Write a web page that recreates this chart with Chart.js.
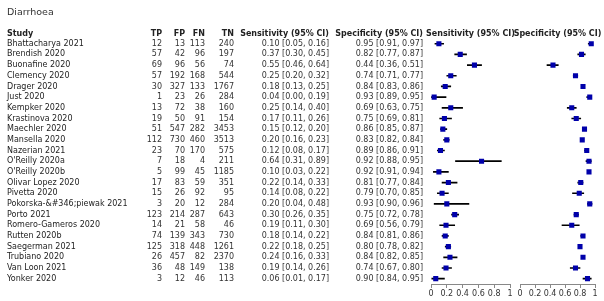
<!DOCTYPE html>
<html lang="en">
<head>
<meta charset="UTF-8">
<title>Diarrhoea</title>
<script src="https://cdn.jsdelivr.net/npm/chart.js"></script>
<style>
  body { margin: 0; background: #fff; }
  #wrap { position: relative; width: 604px; height: 301px; }
  canvas { position: absolute; top: 0; }
  #sensChart { left: 0; }
  #specChart { left: 500px; }
</style>
</head>
<body>
<div id="wrap">
  <canvas id="sensChart" width="515" height="301"></canvas>
  <canvas id="specChart" width="104" height="301"></canvas>
</div>
<script>
const title = 'Diarrhoea';
const studies = [
  'Bhattacharya 2021', 'Brendish 2020', 'Buonafine 2020', 'Clemency 2020', 'Drager 2020',
  'Just 2020', 'Kempker 2020', 'Krastinova 2020', 'Maechler 2020', 'Mansella 2020',
  'Nazerian 2021', "O'Reilly 2020a", "O'Reilly 2020b", 'Olivar Lopez 2020', 'Pivetta 2020',
  'Pokorska-&#346;piewak 2021', 'Porto 2021', 'Romero-Gameros 2020', 'Rutten 2020b',
  'Saegerman 2021', 'Trubiano 2020', 'Van Loon 2021', 'Yonker 2020'
];
const tp = [12, 57, 69, 57, 30, 1, 13, 19, 51, 112, 23, 7, 5, 17, 15, 3, 123, 14, 74, 125, 26, 36, 3];
const fp = [13, 42, 96, 192, 327, 23, 72, 50, 547, 730, 70, 18, 99, 83, 26, 20, 214, 21, 139, 318, 457, 48, 12];
const fn = [113, 96, 56, 168, 133, 26, 38, 91, 282, 460, 170, 4, 45, 59, 92, 12, 287, 58, 343, 448, 82, 149, 46];
const tn = [240, 197, 74, 544, 1767, 284, 160, 154, 3453, 3513, 575, 211, 1185, 351, 95, 284, 643, 46, 730, 1261, 2370, 138, 113];
const sens   = [0.10, 0.37, 0.55, 0.25, 0.18, 0.04, 0.25, 0.17, 0.15, 0.20, 0.12, 0.64, 0.10, 0.22, 0.14, 0.20, 0.30, 0.19, 0.18, 0.22, 0.24, 0.19, 0.06];
const sensLo = [0.05, 0.30, 0.46, 0.20, 0.13, 0.00, 0.14, 0.11, 0.12, 0.16, 0.08, 0.31, 0.03, 0.14, 0.08, 0.04, 0.26, 0.11, 0.14, 0.18, 0.16, 0.14, 0.01];
const sensHi = [0.16, 0.45, 0.64, 0.32, 0.25, 0.19, 0.40, 0.26, 0.20, 0.23, 0.17, 0.89, 0.22, 0.33, 0.22, 0.48, 0.35, 0.30, 0.22, 0.25, 0.33, 0.26, 0.17];
const spec   = [0.95, 0.82, 0.44, 0.74, 0.84, 0.93, 0.69, 0.75, 0.86, 0.83, 0.89, 0.92, 0.92, 0.81, 0.79, 0.93, 0.75, 0.69, 0.84, 0.80, 0.84, 0.74, 0.90];
const specLo = [0.91, 0.77, 0.36, 0.71, 0.83, 0.89, 0.63, 0.69, 0.85, 0.82, 0.86, 0.88, 0.91, 0.77, 0.70, 0.90, 0.72, 0.56, 0.81, 0.78, 0.82, 0.67, 0.84];
const specHi = [0.97, 0.87, 0.51, 0.77, 0.86, 0.95, 0.75, 0.81, 0.87, 0.84, 0.91, 0.95, 0.94, 0.84, 0.85, 0.96, 0.78, 0.79, 0.86, 0.82, 0.85, 0.80, 0.95];
const axisTicks = [0, 0.2, 0.4, 0.6, 0.8, 1];

const FONT = '"DejaVu Sans", Verdana, sans-serif';
const fmtCI = (v, lo, hi) => `${v.toFixed(2)} [${lo.toFixed(2)}, ${hi.toFixed(2)}]`;

// table columns: [header, right edge x, value getter]
const columns = [
  ['TP', 162, i => tp[i]],
  ['FP', 185, i => fp[i]],
  ['FN', 205, i => fn[i]],
  ['TN', 234, i => tn[i]],
  ['Sensitivity (95% CI)', 329, i => fmtCI(sens[i], sensLo[i], sensHi[i])],
  ['Specificity (95% CI)', 423, i => fmtCI(spec[i], specLo[i], specHi[i])]
];

// draws the header over the plot, and the study table on the left chart
function headerPlugin(label, withTable) {
  return {
    id: 'tableText',
    afterDraw(chart) {
      const ctx = chart.ctx;
      const ys = chart.scales.y;
      const area = chart.chartArea;
      ctx.save();
      ctx.textBaseline = 'middle';
      ctx.font = 'bold 8px ' + FONT;
      ctx.fillStyle = '#222';
      ctx.textAlign = 'center';
      ctx.fillText(label, (area.left + area.right) / 2, 33.5);
      if (withTable) {
        ctx.textAlign = 'left';
        ctx.fillText('Study', 7, 33.5);
        ctx.textAlign = 'right';
        columns.forEach(c => ctx.fillText(c[0], c[1], 33.5));

        ctx.font = '9.5px ' + FONT;
        ctx.fillStyle = '#333';
        ctx.textAlign = 'left';
        ctx.fillText(title, 7, 12.5);

        ctx.font = '8px ' + FONT;
        studies.forEach((name, i) => {
          const y = ys.getPixelForValue(i);
          ctx.textAlign = 'left';
          ctx.fillStyle = '#222';
          ctx.fillText(name, 7, y);
          ctx.textAlign = 'right';
          ctx.fillStyle = '#333';
          columns.forEach(c => ctx.fillText(String(c[2](i)), c[1], y));
        });
      }
      ctx.restore();
    }
  };
}

function makeChart(id, est, lo, hi, label, padding, withTable) {
  return new Chart(document.getElementById(id), {
    type: 'bar',
    data: {
      labels: studies,
      datasets: [
        {
          type: 'scatter',
          data: est.map((v, i) => ({ x: v, y: i })),
          pointStyle: 'rect',
          pointRadius: 3.6,
          pointBorderWidth: 0,
          backgroundColor: '#0000aa',
          borderColor: '#0000aa',
          order: 0
        },
        {
          type: 'bar',
          data: lo.map((v, i) => [v, hi[i]]),
          backgroundColor: '#000',
          borderWidth: 0,
          barThickness: 1,
          order: 1
        }
      ]
    },
    options: {
      indexAxis: 'y',
      responsive: false,
      animation: false,
      events: [],
      layout: { padding: padding },
      plugins: { legend: { display: false }, tooltip: { enabled: false } },
      scales: {
        y: { type: 'category', display: false, offset: true },
        x: {
          type: 'linear',
          min: 0,
          max: 1,
          grid: { drawOnChartArea: false, tickLength: 4, color: '#888' },
          border: { color: '#888' },
          ticks: {
            font: { family: FONT, size: 8 },
            color: '#333',
            padding: 1,
            maxRotation: 0,
            autoSkip: false,
            callback: v => String(v)
          },
          afterBuildTicks: s => { s.ticks = axisTicks.map(v => ({ value: v })); },
          afterFit: s => { s.height = 17; s.paddingLeft = 0; s.paddingRight = 0; }
        }
      }
    },
    plugins: [headerPlugin(label, withTable)]
  });
}

makeChart('sensChart', sens, sensLo, sensHi, 'Sensitivity (95% CI)',
  { left: 431, right: 5, top: 38.4, bottom: 0 }, true);
makeChart('specChart', spec, specLo, specHi, 'Specificity (95% CI)',
  { left: 20, right: 9, top: 38.4, bottom: 0 }, false);
</script>
</body>
</html>
